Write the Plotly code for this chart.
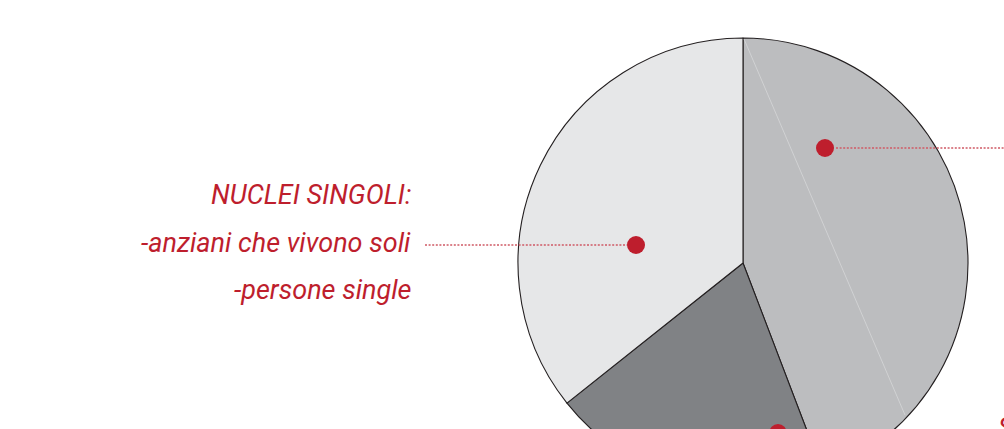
import plotly.graph_objects as go

# ---- data ----
slice_labels = ["Altri nuclei", "Coppie", "Nuclei singoli"]
slice_values = [44.2, 20.1, 35.7]
slice_colors = ["#bcbdbf", "#808285", "#e6e7e8"]

label_lines = ["NUCLEI SINGOLI:", "-anziani che vivono soli", "-persone single"]

# ---- layout geometry (pixels in a 1004 x H canvas) ----
W, H = 1004, 490
RED = "#be1e2d"
FONT = "Roboto, 'DejaVu Sans Condensed', sans-serif"

def px(x):
    return x / W

def py(y):
    return 1 - y / H

fig = go.Figure()
fig.add_trace(go.Pie(
    labels=slice_labels,
    values=slice_values,
    sort=False,
    direction="clockwise",
    rotation=0,
    marker=dict(colors=slice_colors, line=dict(color="#231f20", width=1.1)),
    textinfo="none",
    hoverinfo="label+percent",
    showlegend=False,
    domain=dict(x=[px(518), px(968)], y=[py(488), py(38)]),
))

shapes = []
# faint chord inside the grey slice
shapes.append(dict(type="line", xref="paper", yref="paper",
                   x0=px(744), y0=py(39), x1=px(905), y1=py(415),
                   line=dict(color="#d6d7d8", width=0.8), layer="above"))

# dotted leader lines
leaders = [((836, 148), (1004, 148)), ((425, 245), (627, 245))]
for (a, b) in leaders:
    shapes.append(dict(type="line", xref="paper", yref="paper",
                       x0=px(a[0]), y0=py(a[1]), x1=px(b[0]), y1=py(b[1]),
                       line=dict(color="#cf5a65", width=1.3, dash="2px,1.6px"),
                       layer="above"))

# label dots
dots = [(825, 148), (636, 245), (778, 433)]
for (x, y) in dots:
    shapes.append(dict(type="circle", xref="paper", yref="paper",
                       xsizemode="pixel", ysizemode="pixel",
                       xanchor=px(x), yanchor=py(y),
                       x0=-9, x1=9, y0=-9, y1=9,
                       fillcolor=RED, line=dict(width=0), layer="above"))

annotations = []
line_y = [195, 243, 290]
for t, y in zip(label_lines, line_y):
    annotations.append(dict(text=t, xref="paper", yref="paper",
                            x=px(413), y=py(y), xanchor="right", yanchor="middle",
                            showarrow=False,
                            font=dict(family=FONT, size=27,
                                      color=RED, style="italic")))
annotations.append(dict(text="S", xref="paper", yref="paper",
                        x=px(996), y=py(428), xanchor="left", yanchor="middle",
                        showarrow=False,
                        font=dict(family=FONT, size=27,
                                  color=RED, style="italic")))

fig.update_layout(
    width=W, height=H,
    margin=dict(l=0, r=0, t=0, b=0),
    paper_bgcolor="white", plot_bgcolor="white",
    shapes=shapes, annotations=annotations,
)

fig.write_html("out.html",
               config={"displayModeBar": False},
               post_script="document.body.style.margin='0';document.body.style.overflow='hidden';document.documentElement.style.overflow='hidden';")
